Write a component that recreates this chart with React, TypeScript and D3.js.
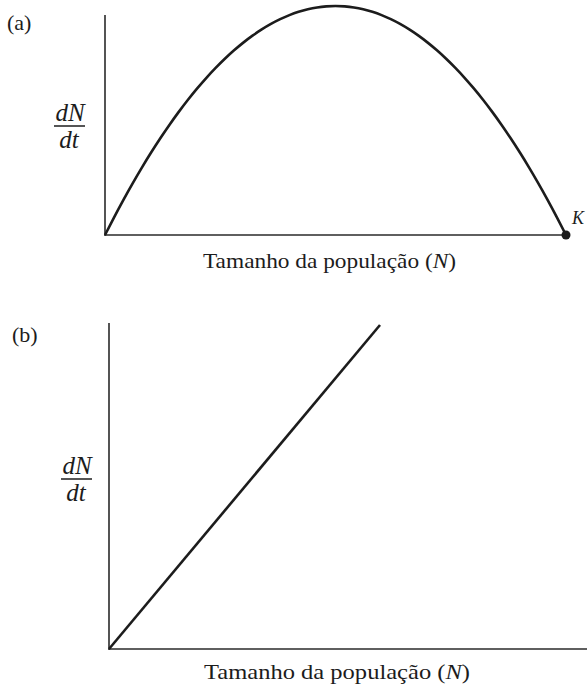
import React from 'react';
import { scaleLinear, line, curveMonotoneX, range } from 'd3';

const width = 587;
const height = 686;

// Panel (a): logistic growth rate dN/dt = rN(1 - N/K), scaled so the peak is 1
const logisticN = range(0, 1.0001, 0.02);
const logisticRate = logisticN.map((n) => 4 * n * (1 - n));

// Panel (b): exponential growth rate dN/dt = rN
const expN = [0, 1];
const expRate = [0, 1];

const xLabel = 'Tamanho da população (';
const font = '"Liberation Serif", "Times New Roman", serif';
const ink = '#1c1c1c';

const Fraction = ({ x, y }: { x: number; y: number }) => (
  <g fontFamily={font} fontStyle="italic" fontSize={25} fill={ink} textAnchor="middle">
    <text x={x} y={y - 5}>dN</text>
    <line x1={x - 16} x2={x + 15} y1={y} y2={y} stroke={ink} strokeWidth={1.5} />
    <text x={x - 1} y={y + 22}>dt</text>
  </g>
);

const AxisTitle = ({ x, y, len }: { x: number; y: number; len: number }) => (
  <text x={x} y={y} fontFamily={font} fontSize={22} fill={ink} textLength={len} lengthAdjust="spacingAndGlyphs">
    {xLabel}
    <tspan fontStyle="italic">N</tspan>)
  </text>
);

export default function App() {
  // panel (a) scales
  const xA = scaleLinear().domain([0, 1]).range([105, 566]);
  const yA = scaleLinear().domain([0, 1]).range([235, 6]);
  const curveA = line<number>()
    .curve(curveMonotoneX)
    .x((d, i) => xA(logisticN[i]))
    .y((d) => yA(d));

  // panel (b) scales
  const xB = scaleLinear().domain([0, 1]).range([109, 380]);
  const yB = scaleLinear().domain([0, 1]).range([649, 325]);
  const lineB = line<number>()
    .x((d, i) => xB(expN[i]))
    .y((d) => yB(d));

  return (
    <svg width={width} height={height} style={{ position: 'absolute', left: 0, top: 0, background: '#fff' }}>
      {/* (a) */}
      <text x={7} y={30} fontFamily={font} fontSize={22} fill={ink}>(a)</text>
      <line x1={xA(0)} x2={xA(0)} y1={15} y2={yA(0) + 1} stroke="#2a2a2a" strokeWidth={1.6} />
      <line x1={xA(0)} x2={xA(1)} y1={yA(0)} y2={yA(0)} stroke="#2a2a2a" strokeWidth={1.6} />
      <path d={curveA(logisticRate) || ''} fill="none" stroke={ink} strokeWidth={2.6} />
      <circle cx={xA(1)} cy={yA(0)} r={4.5} fill={ink} />
      <text x={572} y={224} fontFamily={font} fontStyle="italic" fontSize={18} fill={ink}>K</text>
      <Fraction x={70} y={126} />
      <AxisTitle x={203} y={268} len={253} />

      {/* (b) */}
      <text x={12} y={342} fontFamily={font} fontSize={22} fill={ink}>(b)</text>
      <line x1={xB(0)} x2={xB(0)} y1={323} y2={yB(0) + 1} stroke="#2a2a2a" strokeWidth={1.6} />
      <line x1={xB(0)} x2={width} y1={yB(0)} y2={yB(0)} stroke="#2a2a2a" strokeWidth={1.6} />
      <path d={lineB(expRate) || ''} fill="none" stroke={ink} strokeWidth={2.6} />
      <Fraction x={77} y={479} />
      <AxisTitle x={204} y={679} len={266} />
    </svg>
  );
}
